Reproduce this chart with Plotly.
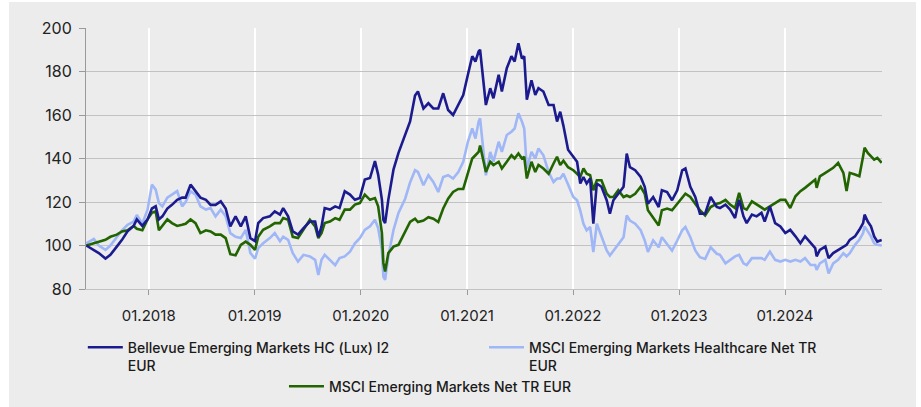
import plotly.graph_objects as go

dates = [
    "2017-05-31", "2017-06-26", "2017-07-13", "2017-08-05", "2017-08-22", "2017-09-13", "2017-10-01",
    "2017-10-20", "2017-11-10", "2017-11-21", "2017-12-10", "2017-12-28", "2018-01-12", "2018-01-25",
    "2018-02-05", "2018-02-17", "2018-03-06", "2018-03-22", "2018-04-09", "2018-04-26", "2018-05-08",
    "2018-05-25", "2018-06-11", "2018-06-28", "2018-07-17", "2018-08-02", "2018-08-19", "2018-09-06",
    "2018-09-23", "2018-10-09", "2018-10-27", "2018-11-14", "2018-12-01", "2018-12-17", "2019-01-02",
    "2019-01-13", "2019-01-30", "2019-02-22", "2019-03-11", "2019-03-29", "2019-04-09", "2019-04-26",
    "2019-05-12", "2019-05-30", "2019-06-18", "2019-07-10", "2019-07-28", "2019-08-08", "2019-08-19",
    "2019-08-30", "2019-09-17", "2019-10-05", "2019-10-20", "2019-11-07", "2019-11-25", "2019-12-12",
    "2019-12-29", "2020-01-15", "2020-02-02", "2020-02-19", "2020-03-01", "2020-03-14", "2020-03-19",
    "2020-03-25", "2020-04-05", "2020-04-23", "2020-05-10", "2020-06-02", "2020-06-19", "2020-07-06",
    "2020-07-16", "2020-08-04", "2020-08-21", "2020-09-07", "2020-09-24", "2020-10-11", "2020-10-28",
    "2020-11-14", "2020-12-02", "2020-12-19", "2021-01-04", "2021-01-19", "2021-01-30", "2021-02-10",
    "2021-02-15", "2021-02-24", "2021-03-07", "2021-03-22", "2021-04-02", "2021-04-20", "2021-05-01",
    "2021-05-18", "2021-06-03", "2021-06-14", "2021-06-27", "2021-07-09", "2021-07-17", "2021-07-26",
    "2021-08-11", "2021-08-24", "2021-09-04", "2021-09-21", "2021-10-09", "2021-10-26", "2021-11-07",
    "2021-11-18", "2021-11-29", "2021-12-15", "2022-01-02", "2022-01-15", "2022-01-26", "2022-02-06",
    "2022-02-17", "2022-03-01", "2022-03-12", "2022-03-24", "2022-04-09", "2022-04-27", "2022-05-08",
    "2022-05-20", "2022-06-06", "2022-06-24", "2022-07-05", "2022-07-16", "2022-08-03", "2022-08-22",
    "2022-09-05", "2022-09-16", "2022-10-04", "2022-10-23", "2022-11-03", "2022-11-21", "2022-12-08",
    "2022-12-26", "2023-01-12", "2023-01-23", "2023-02-09", "2023-02-26", "2023-03-14", "2023-04-01",
    "2023-04-20", "2023-05-11", "2023-05-22", "2023-06-10", "2023-06-26", "2023-07-13", "2023-07-27",
    "2023-08-11", "2023-08-22", "2023-09-09", "2023-09-25", "2023-10-12", "2023-10-23", "2023-11-10",
    "2023-11-28", "2023-12-16", "2024-01-02", "2024-01-19", "2024-02-06", "2024-02-23", "2024-03-10",
    "2024-03-29", "2024-04-14", "2024-04-19", "2024-04-30", "2024-05-19", "2024-05-30", "2024-06-15",
    "2024-07-02", "2024-07-20", "2024-07-31", "2024-08-11", "2024-08-29", "2024-09-13", "2024-09-26",
    "2024-10-01", "2024-10-12", "2024-10-23", "2024-11-03", "2024-11-14", "2024-11-29",
]

bellevue = [
    100, 98, 96.5, 94, 95.7, 99.5, 102.6, 106.5, 109, 112, 109, 112, 117, 118,
    112, 113.4, 117, 118.7, 121, 122, 122, 128, 125, 122, 121, 118.7, 118.7, 120.3,
    117, 108.8, 113.4, 108.8, 113.4, 103.4, 102, 110.3, 112.6, 113.4, 115.7, 114.2, 117.2, 113.4,
    106.5, 105, 108, 111, 111, 104, 108.8, 117.2, 116.5, 118, 117.2, 124.9, 123.4, 121,
    121.8, 130.3, 131, 138.8, 132.6, 121, 111.8, 110.3, 121, 135, 142.6, 150.8, 157, 169,
    170.8, 163, 165.4, 163, 163, 170, 162.3, 160, 164.6, 169.2, 178.5, 187, 184.6, 189.2,
    190, 178.5, 164.6, 172.3, 167.7, 178.5, 170.8, 181.5, 187, 184.6, 193, 186, 187, 167,
    176, 169.2, 172.3, 170.8, 164.6, 164.6, 157, 161.5, 155, 144, 140.8, 138.5, 128.5, 131.5,
    128.5, 130.8, 110, 128.5, 127, 120.8, 114.6, 120.8, 123.8, 127, 142.3, 136, 134.6, 131.5,
    127, 119.2, 122.3, 117.7, 125.4, 124.6, 120.8, 125.4, 134.6, 135.4, 127, 122.3, 114.6, 114.6,
    122.3, 117.7, 117.2, 118.8, 116.5, 112.6, 121, 113.4, 110.3, 114.2, 113.4, 115, 111, 118,
    110.3, 108.8, 105.7, 107.2, 104.2, 101, 104.2, 101, 98.8, 95, 98, 99.5, 94.2, 96.5,
    98, 99.5, 100.3, 102.6, 104.2, 107.2, 110.3, 114.2, 111, 108.8, 104.2, 101.8, 102.5,
]

msci_hc = [
    101, 103, 100, 98, 100, 104, 107, 109.5, 111, 114, 110, 116.5, 128, 125.7,
    119.5, 118, 122, 123.4, 125, 118, 120, 125, 123.4, 118, 116.5, 117.2, 113.4, 116.5,
    113.4, 105.7, 104, 103.4, 107.2, 96.5, 94, 98.8, 101, 103.4, 105.7, 102, 104, 102.6,
    96.5, 92.6, 95.7, 95, 93.4, 86.5, 93.4, 95.7, 93.4, 91, 94.2, 95, 97.2, 101,
    103.4, 107.2, 108.8, 111.8, 108, 98, 85.7, 84.2, 95, 107.2, 115, 121.5, 129, 134.6,
    133.8, 127.7, 132.3, 129.2, 124.6, 131.5, 132.3, 130.8, 133.8, 138.5, 147.7, 153.8, 149.2, 157,
    158.5, 146, 132.3, 143, 138.5, 147.7, 143, 150.8, 152.3, 153.8, 160.8, 157, 153.8, 135.4,
    143, 140, 144.6, 141.5, 133.8, 129.2, 130.8, 130.8, 133, 128, 122.3, 120.8, 116, 110,
    107, 108.5, 97, 110, 103.8, 97.7, 95.4, 97.7, 100.8, 103.8, 113.8, 111.5, 110, 107,
    102.3, 97, 102.3, 99.2, 103.8, 100.8, 97.7, 102.3, 107, 108.5, 103.8, 97.7, 94.6, 93.8,
    99.2, 96.2, 95.7, 91.8, 93.4, 95, 95.7, 91.8, 91, 94.2, 94.2, 94.2, 93.4, 97.2,
    93.4, 92.6, 93.4, 92.6, 93.4, 92.6, 94.2, 91, 91, 88.8, 91.8, 93.4, 87.2, 91.8,
    93.4, 96.5, 95, 96.5, 100.3, 102.6, 105.7, 108.8, 106.5, 104.2, 101, 100.3, 100,
]

msci_em = [
    100, 101, 102, 102.6, 104, 105, 106.5, 107, 109, 107.7, 107, 112, 115, 115.7,
    107, 109, 112, 110.3, 109, 109.5, 110, 112, 110.3, 105.7, 107, 106.5, 105, 105,
    103.4, 96, 95.5, 100.3, 101.8, 100.3, 98, 104, 107.2, 108.8, 110.3, 110.3, 112.6, 111.8,
    104, 103.4, 107.2, 111.8, 108.8, 103.4, 105.7, 110.3, 111, 112.6, 111.8, 116.5, 116.5, 118.8,
    119.5, 123.4, 121, 121.8, 118, 105.7, 92, 88, 96.5, 99.5, 100.3, 106, 110.8, 112.3,
    110.8, 111.5, 113, 112.3, 110.8, 117, 121.5, 124.6, 126, 126, 133.8, 140, 141.5, 143,
    146, 140, 133.8, 138.5, 137, 138.5, 135.4, 138.5, 141.5, 140, 142.3, 140, 140.8, 130.8,
    138.5, 133.8, 137, 135.4, 133, 137.7, 140.8, 137, 139, 136, 134.6, 133, 131.5, 135.4,
    133, 132.3, 125.4, 130, 130, 123.8, 122.3, 122.3, 125.4, 122.3, 123, 122.3, 123.8, 127,
    123.8, 116.2, 113, 109.2, 116.2, 117, 116.2, 119.2, 122.3, 123.8, 122.3, 119.2, 116.2, 113.8,
    117.7, 119.2, 119.5, 121, 118.8, 117.2, 124.2, 117.2, 116.5, 120.3, 118.8, 117.2, 116.5, 118,
    119.5, 121, 121, 117.2, 122.6, 125, 126.5, 128.8, 130.3, 126.5, 131.8, 133.4, 134.2, 135.7,
    138, 133.4, 125, 133.4, 132.6, 131.8, 141, 145, 142.6, 141, 139.5, 140.3, 138,
]

series_names = [
    "Bellevue Emerging Markets HC (Lux) I2<br>EUR",
    "MSCI Emerging Markets Healthcare Net TR<br>EUR",
    "MSCI Emerging Markets Net TR EUR",
]

x_tick_vals = ["2018-01-01", "2019-01-01", "2020-01-01", "2021-01-01",
               "2022-01-01", "2023-01-01", "2024-01-01"]
x_tick_text = ["01.2018", "01.2019", "01.2020", "01.2021",
               "01.2022", "01.2023", "01.2024"]
y_tick_vals = [80, 100, 120, 140, 160, 180, 200]

C_B = "#1b1b8f"
C_L = "#9fb6f7"
C_G = "#216400"
BG = "#ececec"
FONT = "Inter"

fig = go.Figure()
fig.add_trace(go.Scatter(x=dates, y=msci_hc, mode="lines", name=series_names[1],
                         line=dict(color=C_L, width=2.6), legend="legend2"))
fig.add_trace(go.Scatter(x=dates, y=msci_em, mode="lines", name=series_names[2],
                         line=dict(color=C_G, width=2.6), legend="legend3"))
fig.add_trace(go.Scatter(x=dates, y=bellevue, mode="lines", name=series_names[0],
                         line=dict(color=C_B, width=2.6), legend="legend",
                         showlegend=True))

legend_font = dict(family=FONT, size=14, color="#1a1a1a", weight=500)


def leg(x, y):
    return dict(orientation="h", x=x, y=y, xanchor="left", yanchor="top",
                valign="top", font=legend_font, bgcolor="rgba(0,0,0,0)",
                itemwidth=35)


fig.update_layout(
    width=921, height=407,
    showlegend=True,
    margin=dict(l=86, r=39, t=28, b=118, autoexpand=False),
    paper_bgcolor="white",
    plot_bgcolor=BG,
    font=dict(family=FONT, size=15, color="#222222"),
    shapes=[dict(type="rect", xref="paper", yref="paper",
                 x0=-0.0967, x1=1.0427, y0=-0.46, y1=1.1,
                 fillcolor=BG, line=dict(width=0), layer="below")],
    xaxis=dict(
        type="date", range=["2017-05-30", "2024-11-30"],
        tickvals=x_tick_vals, ticktext=x_tick_text,
        showgrid=True, gridcolor="white", gridwidth=1.5,
        ticks="outside", ticklen=5, tickcolor="#9a9a9a", tickwidth=1,
        showline=True, linecolor="#c2c2c2", linewidth=1,
        tickfont=dict(family=FONT, size=15, color="#222222"),
        ticklabelstandoff=8, zeroline=False,
    ),
    yaxis=dict(
        range=[80, 200], tickvals=y_tick_vals,
        showgrid=True, gridcolor="#c2c2c2", gridwidth=1,
        ticks="outside", ticklen=6, tickcolor="#9a9a9a", tickwidth=1,
        showline=True, linecolor="#9a9a9a", linewidth=1,
        tickfont=dict(family=FONT, size=16, color="#222222"),
        ticklabelstandoff=4, zeroline=False,
    ),
    legend=leg(-0.004, -0.1636),
    legend2=leg(0.5, -0.1636),
    legend3=leg(0.2487, -0.3127),
)

fig.write_html("out.html", config={"displayModeBar": False},
               post_script="document.body.style.margin='0';")
